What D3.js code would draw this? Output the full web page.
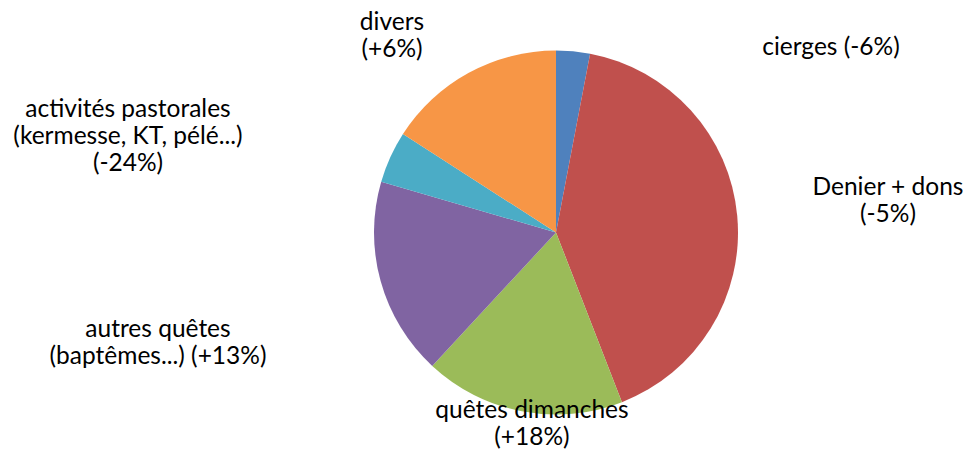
<!DOCTYPE html>
<html>
<head>
<meta charset="utf-8">
<script src="https://cdn.jsdelivr.net/npm/d3@7"></script>
<style>
  body { margin: 0; background: #fff; }
  svg text { font-family: Lato, "Open Sans", sans-serif; font-size: 24.5px; fill: #000; }
</style>
</head>
<body>
<svg id="chart" width="964" height="457"></svg>
<script>
// slices, clockwise from 12 o'clock
var categories = ["cierges", "Denier + dons", "quêtes dimanches", "autres quêtes", "activités pastorales", "divers"];
var values = [3.0, 41.1, 17.8, 17.6, 4.6, 15.9];
var colors = ["#4F81BD", "#C0504D", "#9BBB59", "#8064A2", "#4BACC6", "#F79646"];
// label lines as they appear in the picture
var labelLines = [
  ["cierges (-6%)"],
  ["Denier + dons", "(-5%)"],
  ["quêtes dimanches", "(+18%)"],
  ["autres quêtes", "(baptêmes...) (+13%)"],
  ["activités pastorales", "(kermesse, KT, pélé...)", "(-24%)"],
  ["divers", "(+6%)"]
];

var cx = 556, cy = 232.5, radius = 182;
var lineHeight = 27;

// label anchor (center x, first baseline y)
var labelPos = [
  [831, 55],
  [888, 195],
  [532, 418],
  [158, 337],
  [128, 117],
  [392, 30]
];

var svg = d3.select("#chart");

var pie = d3.pie().sort(null).value(function (d) { return d; });
var arc = d3.arc().innerRadius(0).outerRadius(radius);

var g = svg.append("g")
    .attr("transform", "translate(" + cx + "," + cy + ")");

g.selectAll("path")
    .data(pie(values))
    .enter().append("path")
    .attr("d", arc)
    .attr("fill", function (d, i) { return colors[i]; });

// labels
labelLines.forEach(function (lines, i) {
    var t = svg.append("text")
        .attr("text-anchor", "middle")
        .attr("x", labelPos[i][0])
        .attr("y", labelPos[i][1]);
    lines.forEach(function (s, j) {
        t.append("tspan")
            .attr("x", labelPos[i][0])
            .attr("dy", j === 0 ? 0 : lineHeight)
            .text(s);
    });
});
</script>
</body>
</html>
